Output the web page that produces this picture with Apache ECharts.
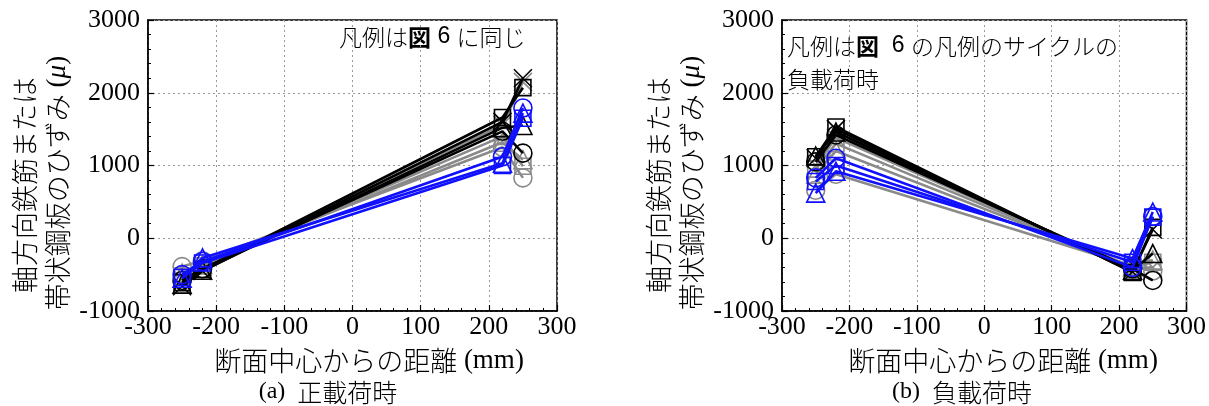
<!DOCTYPE html>
<html><head><meta charset="utf-8">
<script src="https://cdn.jsdelivr.net/npm/echarts@6/dist/echarts.min.js"></script>
<style>html,body{margin:0;padding:0;background:#fff}#c{width:1209px;height:406px}</style>
</head><body><div id="c"></div>
<script>
// distance from section centre (mm)
const xPos = [-250, -220, 220, 250];
const xTicks = [-300, -200, -100, 0, 100, 200, 300];
const yTicks = [-1000, 0, 1000, 2000, 3000];

// (a) positive loading
const aGrayX   = [-560, -400, 1560, 2150];
const aGraySq  = [-520, -380, 1400, 990];
const aGrayTri = [-480, -360, 1320, 1080];
const aGrayCi  = [-390, -310, 1250, 830];
const aBlackX   = [-660, -450, 1600, 2200];
const aBlackSq  = [-610, -430, 1660, 2070];
const aBlackTri = [-630, -440, 1520, 1550];
const aBlackCi  = [-580, -420, 1470, 1170];
const aBlueSq  = [-540, -340, 1000, 1650];
const aBlueTri = [-550, -270, 1030, 1720];
const aBlueCi  = [-500, -320, 1120, 1790];

// (b) negative loading
const bGrayX   = [1000, 1380, -410, -400];
const bGraySq  = [950, 1300, -400, -330];
const bGrayTri = [880, 1200, -390, -300];
const bGrayCi  = [660, 880, -380, -450];
const bBlackX   = [1100, 1500, -460, 120];
const bBlackSq  = [1120, 1530, -470, 150];
const bBlackTri = [1130, 1460, -440, -210];
const bBlackCi  = [1050, 1420, -420, -580];
const bBlueSq  = [780, 1000, -330, 290];
const bBlueTri = [620, 920, -280, 360];
const bBlueCi  = [830, 1100, -400, 300];

const BLACK = '#000000', GRAY = '#8a8a8a', BLUE = '#1010ff';
const XSYM = 'path://M0,0L10,10M10,0L0,10';
const SYM = {x: XSYM, sq: 'rect', tri: 'triangle', ci: 'circle'};
const SIZE = {x: 18, sq: 16, tri: 18, ci: 18};

function mk(vals, color, kind, gi, z) {
  return {
    type: 'line', xAxisIndex: gi, yAxisIndex: gi, z: z,
    data: xPos.map((x, i) => [x, vals[i]]),
    symbol: SYM[kind], symbolSize: SIZE[kind], showSymbol: true,
    lineStyle: {color: color, width: 2.6},
    itemStyle: {color: 'rgba(0,0,0,0)', borderColor: color, borderWidth: 1.6},
    emphasis: {disabled: true}, animation: false
  };
}

const series = [
  mk(aGrayX, GRAY, 'x', 0, 2), mk(aGraySq, GRAY, 'sq', 0, 2), mk(aGrayTri, GRAY, 'tri', 0, 2), mk(aGrayCi, GRAY, 'ci', 0, 2),
  mk(aBlackX, BLACK, 'x', 0, 3), mk(aBlackSq, BLACK, 'sq', 0, 3), mk(aBlackTri, BLACK, 'tri', 0, 3), mk(aBlackCi, BLACK, 'ci', 0, 3),
  mk(aBlueSq, BLUE, 'sq', 0, 4), mk(aBlueTri, BLUE, 'tri', 0, 4), mk(aBlueCi, BLUE, 'ci', 0, 4),
  mk(bGrayX, GRAY, 'x', 1, 2), mk(bGraySq, GRAY, 'sq', 1, 2), mk(bGrayTri, GRAY, 'tri', 1, 2), mk(bGrayCi, GRAY, 'ci', 1, 2),
  mk(bBlackX, BLACK, 'x', 1, 3), mk(bBlackSq, BLACK, 'sq', 1, 3), mk(bBlackTri, BLACK, 'tri', 1, 3), mk(bBlackCi, BLACK, 'ci', 1, 3),
  mk(bBlueSq, BLUE, 'sq', 1, 4), mk(bBlueTri, BLUE, 'tri', 1, 4), mk(bBlueCi, BLUE, 'ci', 1, 4)
];

const NUMFONT = {fontFamily: 'Liberation Serif', fontSize: 26, color: '#000', formatter: v => String(v)};
const JP = 'Noto Sans CJK JP';
const JW = 300;
const SP = '\u00a0';

function xAx(gi) {
  return {
    type: 'value', gridIndex: gi, min: xTicks[0], max: xTicks[xTicks.length - 1], interval: 100,
    axisLine: {onZero: false, lineStyle: {color: '#000', width: 1.5}},
    axisTick: {inside: true, length: 6, lineStyle: {color: '#000', width: 1.2}},
    minorTick: {show: true, splitNumber: 5, length: 3, lineStyle: {color: '#000', width: 1}},
    splitLine: {show: true, lineStyle: {color: '#999', type: [2, 3], width: 1}},
    axisLabel: Object.assign({margin: 3}, NUMFONT)
  };
}
function yAx(gi) {
  return {
    type: 'value', gridIndex: gi, min: yTicks[0], max: yTicks[yTicks.length - 1], interval: 1000,
    axisLine: {onZero: false, lineStyle: {color: '#000', width: 1.5}},
    axisTick: {inside: true, length: 6, lineStyle: {color: '#000', width: 1.2}},
    minorTick: {show: true, splitNumber: 5, length: 3, lineStyle: {color: '#000', width: 1}},
    splitLine: {show: true, lineStyle: {color: '#999', type: [2, 3], width: 1}},
    axisLabel: Object.assign({margin: 8}, NUMFONT)
  };
}

const richFig = {
  b: {fontFamily: JP, fontSize: 23, fontWeight: 'bold', fill: '#000'},
  s: {fontFamily: 'Liberation Sans', fontSize: 23, fill: '#000'},
  n: {fontFamily: JP, fontSize: 23, fontWeight: JW, fill: '#000'}
};
const richSerif = {
  r: {fontFamily: 'Liberation Serif', fontSize: 27, fill: '#000'},
  j: {fontFamily: JP, fontSize: 27, fontWeight: JW, fill: '#000'},
  m: {fontFamily: 'Liberation Serif', fontSize: 27, fontStyle: 'italic', fill: '#000'}
};
const richSub = {
  r: {fontFamily: 'Liberation Serif', fontSize: 24, fill: '#000'},
  j: {fontFamily: JP, fontSize: 25, fontWeight: JW, fill: '#000'}
};
function rich(text, r, x, y, align, rotate) {
  return {type: 'text', x: x, y: y, rotation: rotate ? Math.PI / 2 : 0, silent: true,
    style: {text: text, rich: r, align: align || 'center', verticalAlign: 'middle'}};
}
const yTitle1 = '{j|軸方向鉄筋または}';
const yTitle2 = '{j|帯状鋼板のひずみ}{r|' + SP + '(}{m|μ}{r|)}';
const xTitle = '{j|断面中心からの距離}{r|' + SP + '(mm)}';

const chart = echarts.init(document.getElementById('c'), null, {renderer: 'canvas'});
chart.setOption({
  animation: false,
  grid: [
    {left: 148, right: 652, top: 20, bottom: 95, show: true, borderColor: '#000', borderWidth: 1.5},
    {left: 782, right: 21, top: 20, bottom: 95, show: true, borderColor: '#000', borderWidth: 1.5}
  ],
  xAxis: [xAx(0), xAx(1)],
  yAxis: [yAx(0), yAx(1)],
  series: series,
  graphic: [
    rich(yTitle1, richSerif, 25, 185, 'center', true),
    rich(yTitle2, richSerif, 58, 183, 'center', true),
    rich(yTitle1, richSerif, 659, 185, 'center', true),
    rich(yTitle2, richSerif, 692, 183, 'center', true),
    rich(xTitle, richSerif, 369, 361),
    rich(xTitle, richSerif, 1003, 361),
    rich('{r|(a)' + SP + SP + '}{j|正載荷時}', richSub, 328, 392),
    rich('{r|(b)' + SP + SP + '}{j|負載荷時}', richSub, 962, 392),
    rich('{n|凡例は}{b|図}{s|' + SP + '6' + SP + '}{n|に同じ}', richFig, 339, 37, 'left'),
    rich('{n|凡例は}{b|図}{s|' + SP + SP + '6' + SP + '}{n|の凡例のサイクルの}', richFig, 787, 46, 'left'),
    rich('{n|負載荷時}', richFig, 787, 79, 'left')
  ]
});
</script>
</body></html>
